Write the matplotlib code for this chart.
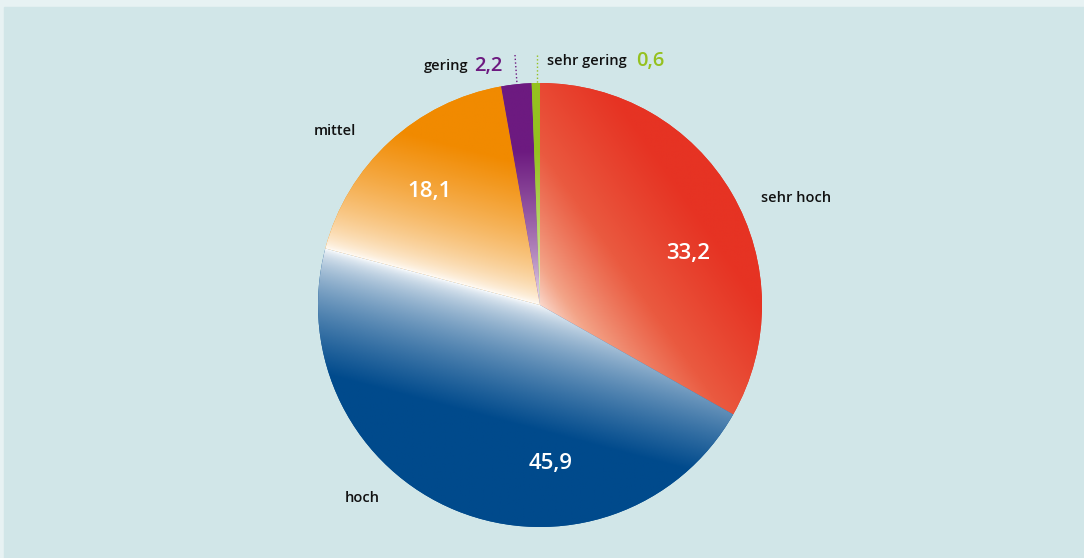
import numpy as np
import matplotlib.pyplot as plt
from matplotlib.colors import LinearSegmentedColormap
from matplotlib.patches import Rectangle

labels = ['sehr hoch', 'hoch', 'mittel', 'gering', 'sehr gering']
values = [33.2, 45.9, 18.1, 2.2, 0.6]
value_labels = ['33,2', '45,9', '18,1', '2,2', '0,6']
colors = ['#e63323', '#004a8c', '#f18a00', '#6d1a80', '#95c11f']

W, H = 1084, 558
cx, cy, R = 540, H - 305, 222

fig = plt.figure(figsize=(W / 100, H / 100), dpi=100, facecolor='#e7f2f3')
ax = fig.add_axes([0, 0, 1, 1])
ax.add_patch(Rectangle((4, 0), W - 4, H - 7, color='#d1e6e8', zorder=0))

wedges, _ = ax.pie(values, startangle=90, counterclock=False, center=(cx, cy),
                   radius=R, colors=colors, frame=True)
ax.set_xlim(0, W)
ax.set_ylim(0, H)
ax.set_aspect('equal')
ax.axis('off')

# linear white-to-colour gradient inside each slice
# (direction in degrees, offset and length as share of radius)
grad_dir = [35, -104.7, 75.3, 90, 90]
grad_off = [0.03, 0.0, 0.0, 0.0, 0.0]
grad_len = [0.85, 0.55, 0.6, 0.7, 0.7]
grad_stops = [['white', '#f3a488', '#ea5a40', '#e63323'],
              ['white', '#004a8c'], ['white', '#f18a00'],
              ['white', '#6d1a80'], ['white', '#95c11f']]
n = 500
xs = np.linspace(cx - R, cx + R, n)
ys = np.linspace(cy - R, cy + R, n)
gx, gy = np.meshgrid(xs, ys)
for w, d, o, L, stops in zip(wedges, grad_dir, grad_off, grad_len, grad_stops):
    a = np.deg2rad(d)
    proj = ((gx - cx) * np.cos(a) + (gy - cy) * np.sin(a)) / R
    t = np.clip((proj + o) / L, 0, 1) ** 0.6
    cmap = LinearSegmentedColormap.from_list('g', stops)
    im = ax.imshow(t, cmap=cmap, vmin=0, vmax=1, origin='lower',
                   extent=(cx - R, cx + R, cy - R, cy + R),
                   zorder=2, interpolation='bilinear')
    im.set_clip_path(w)

font = 'Open Sans'
txt = dict(family=font, fontweight='semibold', color='#111111', fontsize=10.5)
num = dict(family=font, fontweight='semibold', color='white', fontsize=16)

# outer labels
ax.text(796, H - 198, labels[0], ha='center', va='center', **txt)
ax.text(362, H - 498, labels[1], ha='center', va='center', **txt)
ax.text(335, H - 131, labels[2], ha='center', va='center', **txt)

# inner values
ax.text(688, H - 253, value_labels[0], ha='center', va='center', zorder=5, **num)
ax.text(551, H - 464, value_labels[1], ha='center', va='center', zorder=5, **num)
ax.text(430, H - 192, value_labels[2], ha='center', va='center', zorder=5, **num)

# small slices with dotted leaders
ax.text(469, H - 66, labels[3], ha='right', va='center', **txt)
ax.text(474, H - 66, value_labels[3], ha='left', va='center', family=font,
        fontweight='semibold', color=colors[3], fontsize=14.5)
ax.text(547, H - 61, labels[4], ha='left', va='center', **txt)
ax.text(636, H - 61, value_labels[4], ha='left', va='center', family=font,
        fontweight='semibold', color=colors[4], fontsize=14.5)
ax.plot([515, 517], [H - 55, H - 84], ls=':', lw=1, color=colors[3], zorder=3)
ax.plot([537, 537], [H - 55, H - 83], ls=':', lw=1, color=colors[4], zorder=3)

fig.savefig('out.png', dpi=100, facecolor=fig.get_facecolor())
